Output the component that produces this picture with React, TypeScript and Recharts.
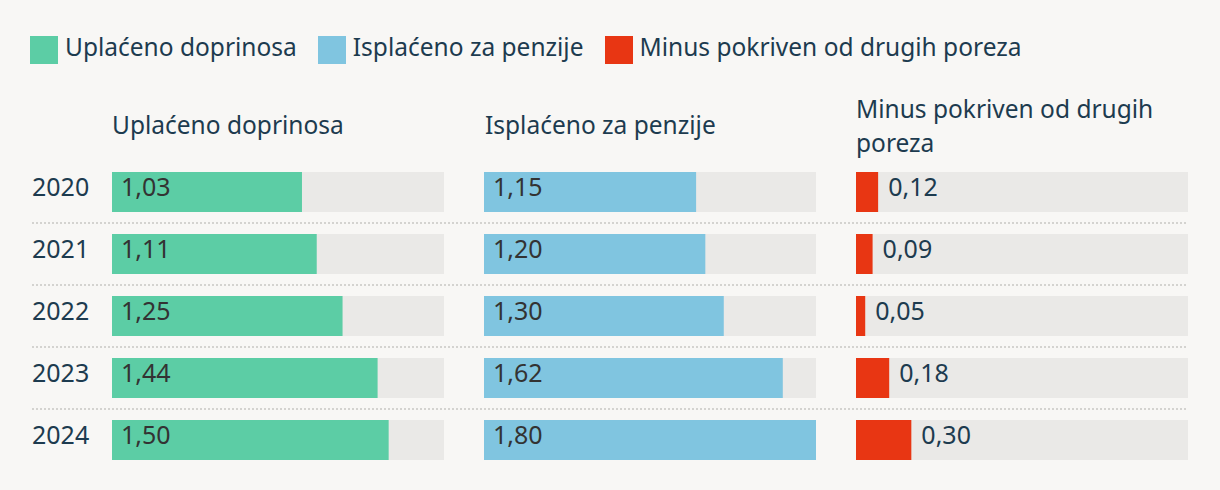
import React from 'react'
import { BarChart, Bar, XAxis, YAxis, LabelList } from 'recharts'

const YEARS = ['2020', '2021', '2022', '2023', '2024']
const UPLACENO = [1.03, 1.11, 1.25, 1.44, 1.5]
const ISPLACENO = [1.15, 1.2, 1.3, 1.62, 1.8]
const MINUS = [0.12, 0.09, 0.05, 0.18, 0.3]
const SCALE_MAX = 1.8

const SERIES = [
  { key: 'uplaceno', name: 'Uplaćeno doprinosa', color: '#5ccda5' },
  { key: 'isplaceno', name: 'Isplaćeno za penzije', color: '#80c5e0' },
  { key: 'minus', name: 'Minus pokriven od drugih poreza', color: '#e83613' },
]

const rows = YEARS.map((year, i) => ({
  year,
  uplaceno: UPLACENO[i],
  isplaceno: ISPLACENO[i],
  minus: MINUS[i],
}))

const FONT = '"Noto Sans", sans-serif'
const NAVY = '#1d3b4f'
const BG = '#f8f7f5'
const TRACK = '#eae9e7'

const ROW_TOP = 161
const ROW_H = 62
const PLOT_H = ROW_H * YEARS.length
const TRACK_W = 332

const fmt = (v: number) => v.toFixed(2).replace('.', ',')

function YearTick(props: any) {
  const { y, payload } = props
  return (
    <text x={32} y={y + 4} fill={NAVY} fontSize={25} fontFamily={FONT} textAnchor="start">
      {payload.value}
    </text>
  )
}

function insideLabel(props: any) {
  const { x, y, height, value } = props
  return (
    <text x={x + 9} y={y + height / 2 + 4} fill="#333" fontSize={25} fontFamily={FONT}>
      {fmt(value)}
    </text>
  )
}

function outsideLabel(props: any) {
  const { x, y, width, height, value } = props
  return (
    <text x={x + width + 10} y={y + height / 2 + 4} fill={NAVY} fontSize={25} fontFamily={FONT}>
      {fmt(value)}
    </text>
  )
}

interface PanelProps {
  dataKey: string
  color: string
  left: number
  withYears?: boolean
  outside?: boolean
}

function Panel({ dataKey, color, left, withYears, outside }: PanelProps) {
  const yAxisW = withYears ? left : 0
  return (
    <div style={{ position: 'absolute', left: withYears ? 0 : left, top: ROW_TOP }}>
      <BarChart
        layout="vertical"
        data={rows}
        width={TRACK_W + yAxisW}
        height={PLOT_H}
        margin={{ top: 0, right: 0, bottom: 0, left: 0 }}
        barSize={40}
      >
        <XAxis type="number" domain={[0, SCALE_MAX]} hide />
        {withYears ? (
          <YAxis
            type="category"
            dataKey="year"
            width={yAxisW}
            axisLine={false}
            tickLine={false}
            tick={<YearTick />}
          />
        ) : (
          <YAxis type="category" dataKey="year" hide />
        )}
        <Bar dataKey={dataKey} fill={color} background={{ fill: TRACK }} isAnimationActive={false}>
          <LabelList dataKey={dataKey} content={outside ? outsideLabel : insideLabel} />
        </Bar>
      </BarChart>
    </div>
  )
}

export default function App() {
  const text = { fontFamily: FONT, fontSize: 24.5, lineHeight: '34px', color: NAVY }
  return (
    <div style={{ position: 'fixed', left: 0, top: 0, width: 1220, height: 490, background: BG, overflow: 'hidden' }}>
      {/* legend */}
      <div style={{ ...text, position: 'absolute', left: 30, top: 29.5, display: 'flex', alignItems: 'flex-start' }}>
        {SERIES.map((s) => (
          <div key={s.key} style={{ display: 'flex', alignItems: 'flex-start', marginRight: 21 }}>
            <div style={{ width: 28, height: 28, background: s.color, marginTop: 6.5, marginRight: 7 }} />
            <span style={{ whiteSpace: 'nowrap' }}>{s.name}</span>
          </div>
        ))}
      </div>

      {/* panel headers */}
      <div style={{ ...text, position: 'absolute', left: 112, top: 107.5 }}>{SERIES[0].name}</div>
      <div style={{ ...text, position: 'absolute', left: 485, top: 107.5 }}>{SERIES[1].name}</div>
      <div style={{ ...text, position: 'absolute', left: 856, top: 91.5, width: 320 }}>{SERIES[2].name}</div>

      {/* row separators */}
      <svg style={{ position: 'absolute', left: 0, top: 0 }} width={1220} height={490}>
        {YEARS.slice(1).map((y, i) => (
          <line
            key={y}
            x1={32}
            x2={1188}
            y1={ROW_TOP + ROW_H * (i + 1)}
            y2={ROW_TOP + ROW_H * (i + 1)}
            stroke="#d4d3d0"
            strokeWidth={2}
            strokeDasharray="2 2"
          />
        ))}
      </svg>

      <Panel dataKey="uplaceno" color={SERIES[0].color} left={112} withYears />
      <Panel dataKey="isplaceno" color={SERIES[1].color} left={484} />
      <Panel dataKey="minus" color={SERIES[2].color} left={856} outside />
    </div>
  )
}
